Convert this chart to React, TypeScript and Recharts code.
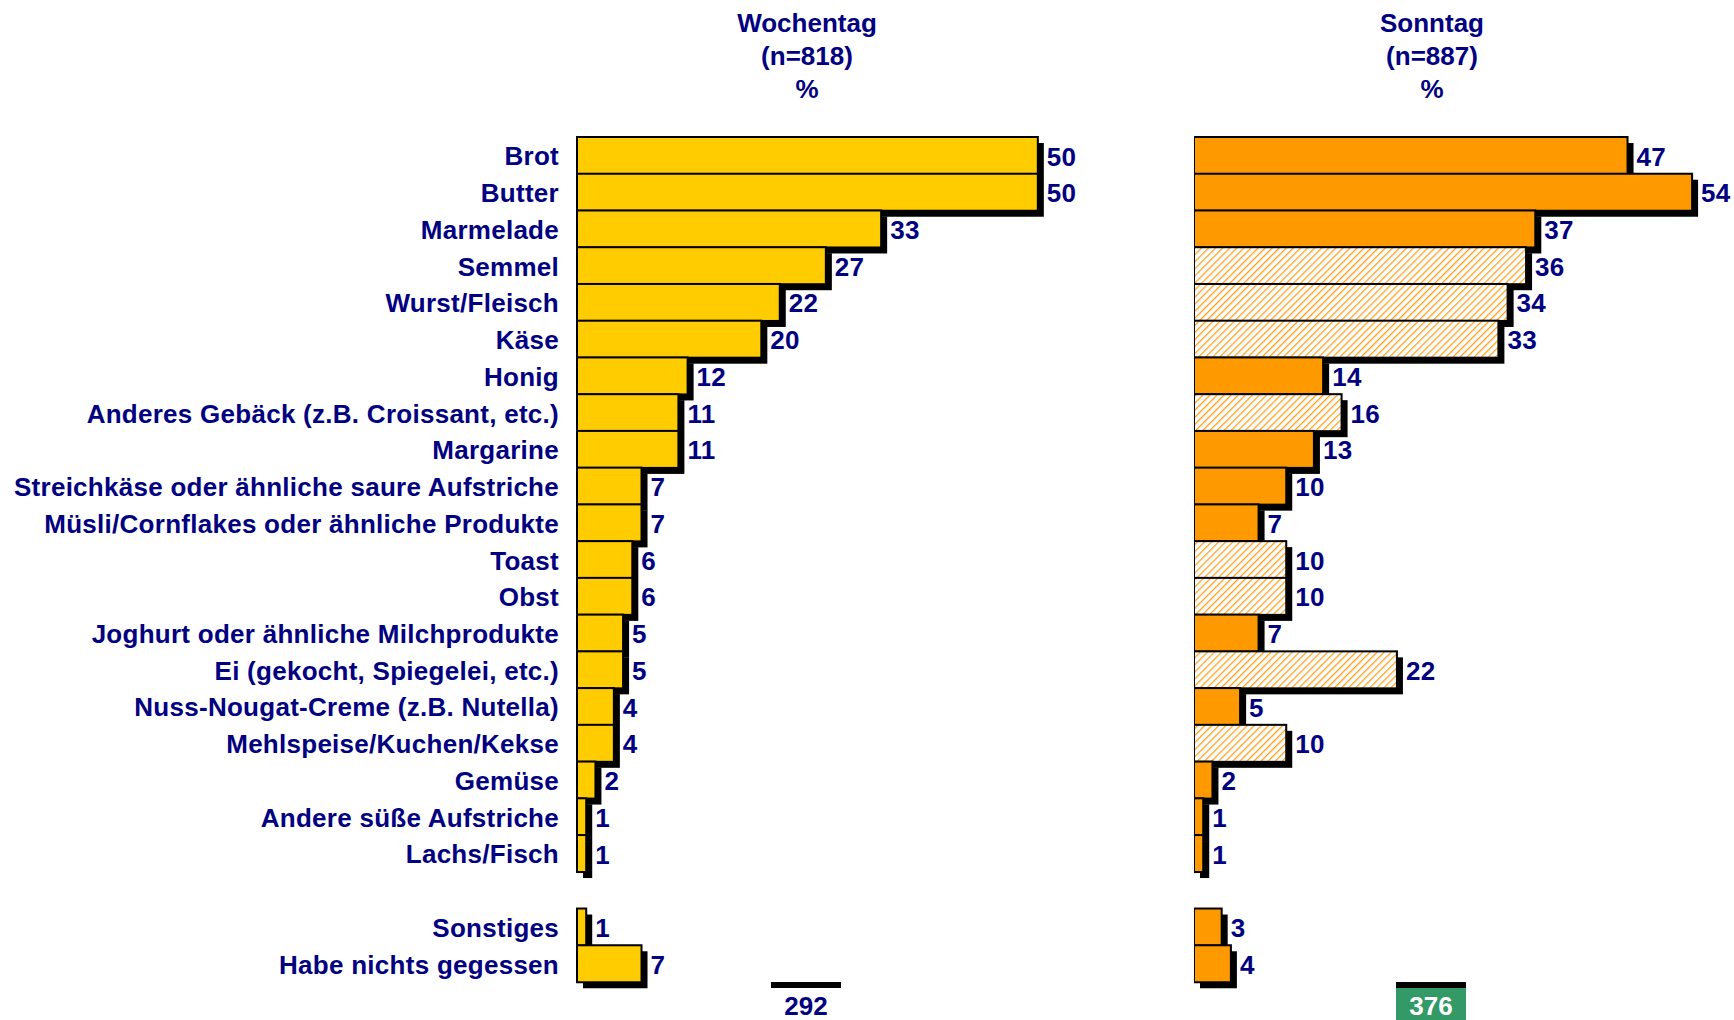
import { BarChart, Bar, XAxis, YAxis, LabelList } from "recharts";

const categories = [
  "Brot",
  "Butter",
  "Marmelade",
  "Semmel",
  "Wurst/Fleisch",
  "Käse",
  "Honig",
  "Anderes Gebäck (z.B. Croissant, etc.)",
  "Margarine",
  "Streichkäse oder ähnliche saure Aufstriche",
  "Müsli/Cornflakes oder ähnliche Produkte",
  "Toast",
  "Obst",
  "Joghurt oder ähnliche Milchprodukte",
  "Ei (gekocht, Spiegelei, etc.)",
  "Nuss-Nougat-Creme (z.B. Nutella)",
  "Mehlspeise/Kuchen/Kekse",
  "Gemüse",
  "Andere süße Aufstriche",
  "Lachs/Fisch",
  "",
  "Sonstiges",
  "Habe nichts gegessen",
];

const weekday = [50, 50, 33, 27, 22, 20, 12, 11, 11, 7, 7, 6, 6, 5, 5, 4, 4, 2, 1, 1, null, 1, 7];
const sunday = [47, 54, 37, 36, 34, 33, 14, 16, 13, 10, 7, 10, 10, 7, 22, 5, 10, 2, 1, 1, null, 3, 4];
// Sonntag-Werte, die schraffiert dargestellt sind
const sundayHatched = [
  false, false, false, true, true, true, false, true, false, false, false, true,
  true, false, true, false, true, false, false, false, false, false, false,
];

const headers = [
  { lines: ["Wochentag", "(n=818)", "%"], center: 807 },
  { lines: ["Sonntag", "(n=887)", "%"], center: 1432 },
];
const weekdayTotal = "292";
const sundayTotal = "376";

const NAVY = "#000080";
const FONT = "'Liberation Sans', Arial, sans-serif";

const rows = categories.map((name, i) => ({
  name,
  weekday: weekday[i],
  sunday: sunday[i],
  hatched: sundayHatched[i],
}));

function ShadowBar(props: any) {
  const { x, y, width, height, fill, payload } = props;
  if (!width || width <= 0) return null;
  const f = payload && payload.hatched && fill === "#FF9900" ? "url(#hatch)" : fill;
  return (
    <g>
      <rect x={x + 6} y={y + 6} width={width} height={height} fill="#000" />
      <rect x={x} y={y} width={width} height={height} fill={f} stroke="#000" strokeWidth={2} />
    </g>
  );
}

function ValueLabel(props: any) {
  const { x, y, width, height, value } = props;
  if (value === null || value === undefined) return null;
  return (
    <text
      x={x + width + 9}
      y={y + height / 2}
      dy={10}
      fill={NAVY}
      fontFamily={FONT}
      fontWeight="bold"
      fontSize={26}
      letterSpacing={0.3}
    >
      {value}
    </text>
  );
}

function CategoryTick(props: any) {
  const { x, y, payload } = props;
  return (
    <text
      x={x}
      y={y}
      dy={10}
      textAnchor="end"
      fill={NAVY}
      fontFamily={FONT}
      fontWeight="bold"
      fontSize={26}
      letterSpacing={0.27}
    >
      {payload.value}
    </text>
  );
}

const chartMargin = { top: 137, bottom: 38, left: 0, right: 0 };

export default function App() {
  return (
    <div style={{ position: "absolute", left: 0, top: 0, width: 1734, height: 1020, overflow: "hidden", background: "#fff" }}>
      <svg width={0} height={0} style={{ position: "absolute" }}>
        <defs>
          <pattern id="hatch" width={5} height={5} patternUnits="userSpaceOnUse" patternTransform="rotate(45)">
            <rect width={5} height={5} fill="#fff" />
            <line x1={0} y1={0} x2={0} y2={5} stroke="#FF9F1C" strokeWidth={2.6} />
          </pattern>
        </defs>
      </svg>

      {headers.map((h) => (
        <div
          key={h.lines[0]}
          style={{
            position: "absolute",
            left: h.center - 150,
            top: 7,
            width: 300,
            textAlign: "center",
            color: NAVY,
            fontFamily: FONT,
            fontWeight: "bold",
            fontSize: 26,
            lineHeight: "33px",
          }}
        >
          {h.lines.map((l) => (
            <div key={l}>{l}</div>
          ))}
        </div>
      ))}

      <div style={{ position: "absolute", left: 0, top: 0 }}>
        <BarChart width={1130} height={1020} data={rows} layout="vertical" margin={chartMargin} barCategoryGap={0}>
          <XAxis type="number" domain={[0, 60]} hide />
          <YAxis
            type="category"
            dataKey="name"
            width={577}
            axisLine={false}
            tickLine={false}
            tickSize={0}
            tickMargin={18}
            interval={0}
            tick={<CategoryTick />}
          />
          <Bar dataKey="weekday" fill="#FFCC00" shape={<ShadowBar />} isAnimationActive={false}>
            <LabelList dataKey="weekday" content={<ValueLabel />} />
          </Bar>
        </BarChart>
      </div>

      <div style={{ position: "absolute", left: 1194, top: 0 }}>
        <BarChart width={540} height={1020} data={rows} layout="vertical" margin={{ ...chartMargin, right: 5 }} barCategoryGap={0}>
          <XAxis type="number" domain={[0, 58]} hide />
          <YAxis type="category" dataKey="name" hide />
          <Bar dataKey="sunday" fill="#FF9900" shape={<ShadowBar />} isAnimationActive={false}>
            <LabelList dataKey="sunday" content={<ValueLabel />} />
          </Bar>
        </BarChart>
      </div>

      <div style={{ position: "absolute", left: 771, top: 982, width: 70, height: 6, background: "#000" }} />
      <div
        style={{
          position: "absolute",
          left: 756,
          top: 991,
          width: 100,
          textAlign: "center",
          color: NAVY,
          fontFamily: FONT,
          fontWeight: "bold",
          fontSize: 26,
          lineHeight: "30px",
        }}
      >
        {weekdayTotal}
      </div>

      <div style={{ position: "absolute", left: 1396, top: 982, width: 70, height: 6, background: "#000" }} />
      <div
        style={{
          position: "absolute",
          left: 1396,
          top: 988,
          width: 70,
          height: 32,
          background: "#339966",
          textAlign: "center",
          color: "#fff",
          fontFamily: FONT,
          fontWeight: "bold",
          fontSize: 26,
          lineHeight: "36px",
        }}
      >
        {sundayTotal}
      </div>
    </div>
  );
}
